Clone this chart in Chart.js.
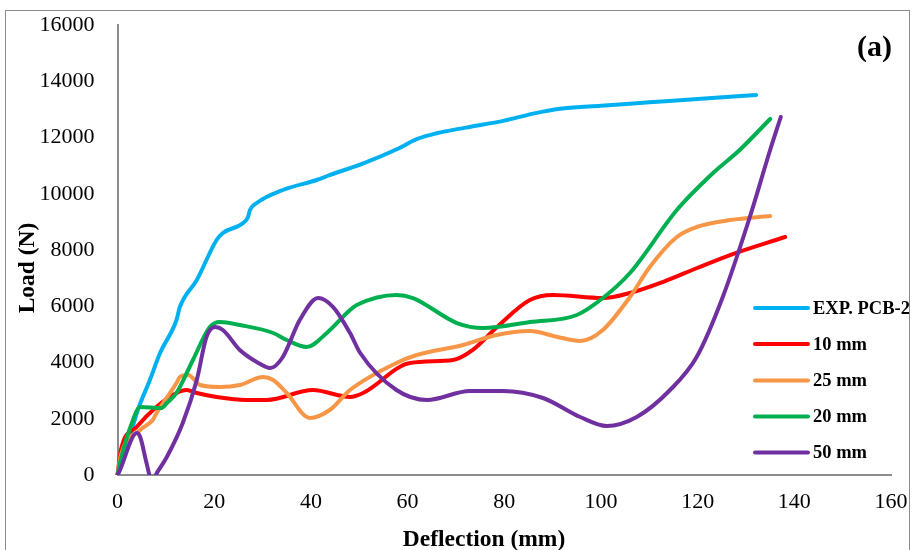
<!DOCTYPE html>
<html><head><meta charset="utf-8">
<script src="https://cdn.jsdelivr.net/npm/chart.js@4.4.0/dist/chart.umd.min.js"></script>
<style>
html,body{margin:0;padding:0;background:#fff;}
#wrap{position:relative;width:913px;height:550px;overflow:hidden;background:#fff;}
#frame{position:absolute;left:5px;top:10px;width:903px;height:600px;border:1.5px solid #8c8c8c;pointer-events:none;}
canvas{position:absolute;left:0;top:0;}
</style></head><body>
<div id="wrap"><canvas id="c" width="913" height="550"></canvas><div id="frame"></div></div>
<script>
// ---- data ----
const seriesNames = ['EXP. PCB-2', '10 mm', '25 mm', '20 mm', '50 mm'];
const xTickValues = [0, 20, 40, 60, 80, 100, 120, 140, 160];
const yTickValues = [0, 2000, 4000, 6000, 8000, 10000, 12000, 14000, 16000];

const expX = [0, 0.5, 4.2, 6.7, 8.8, 12.2, 12.9, 16.4, 20.5, 21.8, 26.0, 27.0, 27.4, 28.8, 34.2, 41.2, 44, 51, 58, 62, 66, 72, 80, 86, 92, 100, 110, 120, 132.1];
const expY = [0, 178, 2311, 3378, 4338, 5511, 5973, 6933, 8356, 8605, 8960, 9173, 9420, 9671, 10133, 10489, 10670, 11090, 11600, 11950, 12150, 12350, 12600, 12850, 13030, 13130, 13250, 13370, 13510];

const mm10X = [0, 0.7, 4.0, 8.1, 12.2, 14.3, 16.4, 20.5, 26.7, 30.9, 40.4, 48.1, 50.8, 60.5, 69.4, 73.5, 78.5, 85.3, 90.1, 100.4, 106.0, 112.8, 119.9, 126.7, 138.1];
const mm10Y = [0, 889, 1717, 2429, 2916, 3022, 2916, 2773, 2667, 2667, 3022, 2773, 2916, 3982, 4089, 4445, 5262, 6222, 6400, 6293, 6471, 6862, 7360, 7822, 8462];

const mm25X = [0, 0.7, 4.7, 7.3, 8.1, 12.2, 12.9, 14.6, 17.1, 21.2, 25.3, 30.1, 32.2, 35.0, 39.8, 43.9, 48.1, 57.7, 61.9, 71.5, 78.4, 85.3, 90.8, 95.7, 100.4, 106.0, 110.1, 115.7, 119.8, 126.7, 135.0];
const mm25Y = [0, 700, 1600, 1956, 2204, 3271, 3484, 3556, 3200, 3129, 3200, 3484, 3378, 2916, 2027, 2311, 3022, 3982, 4267, 4622, 4978, 5120, 4918, 4765, 5156, 6329, 7396, 8462, 8818, 9067, 9209];

const mm20X = [0, 0.5, 3.2, 4.7, 9.1, 10.2, 12.2, 15.6, 19.1, 21.2, 25.3, 32.2, 35.0, 39.1, 43.3, 48.1, 49.5, 57.7, 61.1, 70.2, 75.6, 85.3, 95.0, 100.4, 106.0, 115.7, 123.2, 128.7, 135.0];
const mm20Y = [0, 427, 1956, 2418, 2382, 2560, 2916, 4089, 5262, 5440, 5333, 5049, 4800, 4551, 5049, 5867, 6044, 6400, 6293, 5404, 5227, 5440, 5689, 6293, 7182, 9422, 10738, 11556, 12658];

const mm50X = [0, 0.5, 4.0, 4.7, 6.0, 7.1, 8.3, 10.2, 13.5, 16.4, 18.4, 20.2, 21.8, 25.3, 28.8, 31.6, 34.2, 37.7, 41.5, 44.6, 48.1, 50.2, 57.7, 64.0, 72.9, 79.7, 88.0, 95.7, 101.2, 107.4, 114.3, 119.8, 125.2, 130.8, 135.0, 137.2];
const mm50Y = [0, 178, 1493, 1351, 430, -200, 120, 640, 1849, 3378, 4907, 5262, 5156, 4445, 4018, 3804, 4196, 5511, 6293, 5973, 5049, 4338, 3022, 2667, 2987, 2987, 2738, 2062, 1742, 2062, 3022, 4196, 6329, 9173, 11556, 12729];

const seriesColors = ['#00B0F0', '#FF0000', '#F79646', '#00B050', '#7030A0'];

// ---- build datasets ----
function pts(xs, ys) { return xs.map((x, i) => ({ x: x, y: ys[i] })); }
const seriesData = [pts(expX, expY), pts(mm10X, mm10Y), pts(mm25X, mm25Y), pts(mm20X, mm20Y), pts(mm50X, mm50Y)];

const datasets = seriesNames.map((name, i) => ({
  label: name,
  data: seriesData[i],
  borderColor: seriesColors[i],
  backgroundColor: seriesColors[i],
  borderWidth: 4,
  pointRadius: 0,
  showLine: true,
  fill: false,
  cubicInterpolationMode: 'monotone',
  borderCapStyle: 'round',
  borderJoinStyle: 'round',
  order: seriesNames.length - 1 - i,
  clip: { left: 3, top: 3, right: 3, bottom: 0 }
}));

const serif = '"Liberation Serif", "Times New Roman", serif';

const overlay = {
  id: 'overlay',
  afterDraw(chart) {
    const ctx = chart.ctx;
    ctx.save();
    // legend (inside plot area, right side)
    const lx0 = 755, lx1 = 808, tx = 813;
    const ly = [308, 344, 380.5, 416.5, 452.5];
    ctx.font = 'bold 18.5px ' + serif;
    ctx.textBaseline = 'middle';
    ctx.textAlign = 'left';
    chart.data.datasets.forEach((ds, i) => {
      ctx.strokeStyle = ds.borderColor;
      ctx.lineWidth = 4;
      ctx.lineCap = 'round';
      ctx.beginPath();
      ctx.moveTo(lx0, ly[i]);
      ctx.lineTo(lx1, ly[i]);
      ctx.stroke();
      ctx.fillStyle = '#000';
      ctx.fillText(ds.label, tx, ly[i] + 1);
    });
    // panel label
    ctx.font = 'bold 30px ' + serif;
    ctx.textAlign = 'right';
    ctx.textBaseline = 'alphabetic';
    ctx.fillText('(a)', 892, 56);
    // axis titles
    ctx.font = 'bold 23.5px ' + serif;
    ctx.textAlign = 'center';
    ctx.textBaseline = 'middle';
    ctx.fillText('Deflection (mm)', 484, 540);
    ctx.translate(28, 268);
    ctx.rotate(-Math.PI / 2);
    ctx.fillText('Load (N)', 0, 0);
    ctx.restore();
  }
};

new Chart(document.getElementById('c'), {
  type: 'scatter',
  data: { datasets: datasets },
  plugins: [overlay],
  options: {
    responsive: false,
    animation: false,
    devicePixelRatio: 1,
    layout: { padding: { left: 0, top: 25, right: 22, bottom: 0 } },
    plugins: { legend: { display: false }, tooltip: { enabled: false } },
    scales: {
      x: {
        type: 'linear', min: 0, max: 160,
        afterBuildTicks(s) { s.ticks = xTickValues.map(v => ({ value: v })); },
        ticks: { color: '#000', font: { family: serif, size: 22 }, padding: 14, maxRotation: 0, callback: v => String(v) },
        grid: { display: false, drawTicks: false },
        border: { color: '#8c8c8c', width: 2 },
        afterFit(s) { s.height = 75; s.paddingLeft = 0; s.paddingRight = 0; }
      },
      y: {
        type: 'linear', min: 0, max: 16000,
        afterBuildTicks(s) { s.ticks = yTickValues.map(v => ({ value: v })); },
        ticks: { color: '#000', font: { family: serif, size: 22 }, padding: 23, callback: v => String(v) },
        grid: { display: false, drawTicks: false },
        border: { color: '#8c8c8c', width: 2 },
        afterFit(s) { s.width = 117.5; s.paddingTop = 0; s.paddingBottom = 0; }
      }
    }
  }
});
</script>
</body></html>
